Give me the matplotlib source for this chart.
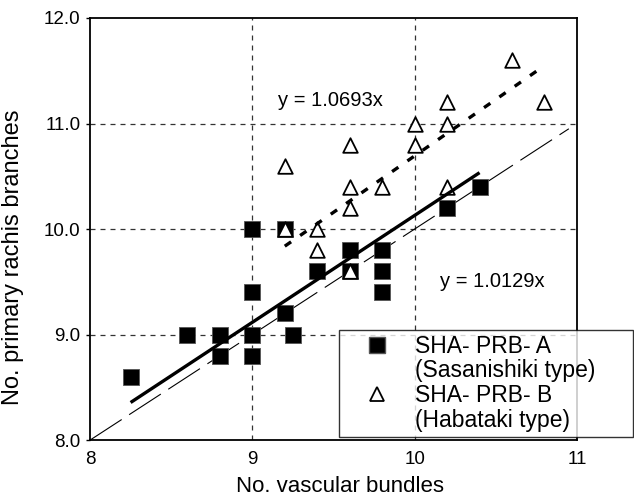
import matplotlib
matplotlib.use("Agg")
import matplotlib.pyplot as plt
from matplotlib.lines import Line2D
import numpy as np

plt.rcParams['font.family'] = ['Liberation Sans', 'DejaVu Sans']

# Data
a_x = [8.25, 8.6, 8.8, 8.8, 9.0, 9.0, 9.0, 9.0, 9.2, 9.2, 9.25, 9.4, 9.6, 9.6, 9.8, 9.8, 9.8, 10.2, 10.4]
a_y = [8.6, 9.0, 9.0, 8.8, 10.0, 9.4, 9.0, 8.8, 10.0, 9.2, 9.0, 9.6, 9.8, 9.6, 9.8, 9.6, 9.4, 10.2, 10.4]
b_x = [9.2, 9.2, 9.4, 9.4, 9.6, 9.6, 9.6, 9.6, 9.8, 10.0, 10.0, 10.2, 10.2, 10.2, 10.6, 10.8]
b_y = [10.6, 10.0, 10.0, 9.8, 10.8, 10.4, 10.2, 9.6, 10.4, 11.0, 10.8, 11.2, 11.0, 10.4, 11.6, 11.2]
slope_a = 1.0129
slope_b = 1.0693
a_range = [8.25, 10.4]
b_range = [9.2, 10.8]
diag_range = [8.0, 10.95]
x_ticks = [8, 9, 10, 11]
y_ticks = [8.0, 9.0, 10.0, 11.0, 12.0]
legend_lines = ["SHA- PRB- A", "(Sasanishiki type)", "SHA- PRB- B", "(Habataki type)"]

fig = plt.figure(figsize=(6.34, 4.99), dpi=100)
ax = fig.add_axes([0.142, 0.118, 0.768, 0.846])

ax.set_xlim(8, 11)
ax.set_ylim(8, 12)
ax.set_xticks(x_ticks)
ax.set_xticklabels([str(t) for t in x_ticks])
ax.set_yticks(y_ticks)
ax.set_yticklabels([f"{t:.1f}" for t in y_ticks])
ax.tick_params(axis='both', labelsize=13.5, direction='out', length=3, width=1)
ax.tick_params(axis='x', length=0, pad=8)
ax.tick_params(axis='y', pad=4)

for s in ax.spines.values():
    s.set_linewidth(1.3)

# grid
for gx in [9, 10]:
    ax.axvline(gx, color='#333333', lw=0.9, ls=(0, (4, 4)), zorder=1)
for gy in [9, 10, 11]:
    ax.axhline(gy, color='#333333', lw=0.9, ls=(0, (4, 4)), zorder=1)

# diagonal y = x
dx = np.array(diag_range)
ax.plot(dx, dx, color='black', lw=0.8, ls=(0, (34, 8)), zorder=2)

# markers
ax.scatter(a_x, a_y, marker='s', s=120, facecolor='black', edgecolor='#555555', lw=0.6, zorder=3)
ax.scatter(b_x, b_y, marker='^', s=110, facecolor='white', edgecolor='black', lw=1.3, zorder=4)

# regression lines
xa = np.array(a_range)
ax.plot(xa, slope_a * xa, color='black', lw=2.4, solid_capstyle='butt', zorder=5)
xb = np.array(b_range)
ax.plot(xb, slope_b * xb, color='black', lw=2.4, ls=(0, (2.3, 3.3)), zorder=5)

ax.text(9.48, 11.22, f"y = {slope_b}x", fontsize=14.5, ha='center', va='center')
ax.text(10.48, 9.5, f"y = {slope_a}x", fontsize=14.5, ha='center', va='center')

ax.set_xlabel("No. vascular bundles", fontsize=16)
ax.set_ylabel("No. primary rachis branches", fontsize=17)
ax.xaxis.set_label_coords(0.513, -0.085)
ax.yaxis.set_label_coords(-0.135, 0.434)

blank = Line2D([], [], ls='none', marker=None)
handles = [
    Line2D([], [], marker='s', ls='none', markersize=11, markerfacecolor='black', markeredgecolor='#555555'),
    blank,
    Line2D([], [], marker='^', ls='none', markersize=10.5, markerfacecolor='white', markeredgecolor='black', markeredgewidth=1.3),
    blank,
]
leg = ax.legend(handles, legend_lines, loc='upper left',
                bbox_to_anchor=(339 / 634, (499 - 439) / 499, (633 - 339) / 634, 109 / 499),
                bbox_transform=fig.transFigure, mode='expand', borderaxespad=0,
                fontsize=16.5, frameon=True, fancybox=False, shadow=False,
                handletextpad=0.2, labelspacing=0.08, borderpad=0.2, handlelength=2.9)
leg.get_frame().set_edgecolor('black')
leg.get_frame().set_linewidth(1.0)
leg.set_zorder(10)

fig.savefig("out.png", dpi=100)
